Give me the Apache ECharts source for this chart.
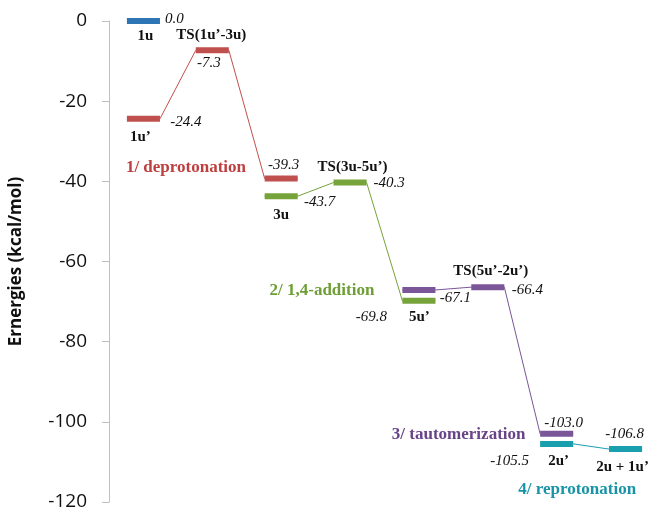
<!DOCTYPE html>
<html>
<head>
<meta charset="utf-8">
<script src="https://cdn.jsdelivr.net/npm/echarts@6/dist/echarts.min.js"></script>
<style>
  html, body { margin: 0; padding: 0; background: #fff; }
  #chart { width: 654px; height: 512px; }
</style>
</head>
<body>
<div id="chart"></div>
<script>
// Energy levels, left to right
var levelNames = ['1u', '1u’', 'TS(1u’-3u)', '', '3u', 'TS(3u-5u’)', '', '5u’', 'TS(5u’-2u’)', '', '2u’', '2u + 1u’'];
var levelCols = [1, 1, 2, 3, 3, 4, 5, 5, 6, 7, 7, 8];
var levelEnergies = [0.0, -24.4, -7.3, -39.3, -43.7, -40.3, -67.1, -69.8, -66.4, -103.0, -105.5, -106.8];
var levelStep = [0, 1, 1, 1, 2, 2, 3, 2, 3, 3, 4, 4];

// Reaction steps: which levels each path joins, and its caption
var stepPaths = [[1, 2, 3], [4, 5, 7], [6, 8, 9], [10, 11]];
var stepLabels = ['1/ deprotonation', '2/ 1,4-addition', '3/ tautomerization', '4/ reprotonation'];
var stepAnchor = [1, 7, 9, 10];

// Y axis
var yMin = -120, yMax = 0, yStep = 20;

// ---- styling (kept apart from the data) ----
var barColors = ['#2E75B6', '#C0504D', '#77A33B', '#7A5598', '#1A9FAE'];
var textColors = [null, '#BE3F3F', '#6E9E35', '#674387', '#1894A6'];
var HW = 0.24; // half bar width, in column units
var valueOffsets = [[31, -1.5], [42.5, 3], [-3.5, 12.5], [2.5, -13], [38.5, 6], [39, 1],
                    [36.5, 8], [-47.5, 16.5], [39.5, 2.5], [7, -11], [-47, 17], [-1, -15.5]];
var nameOffsets = [[2, 15], [-3, 18], [-1, -15], null, [0, 19], [2.5, -15.5],
                   null, [0.5, 16.5], [3, -16.5], null, [2, 17], [-3, 18.5]];
var stepOffsets = [[42.5, 48.5], [-97, -10], [-98, 1], [20.5, 46]];
var serif = '"Liberation Serif", "Times New Roman", serif';

function textLabel(offset, text, extra) {
    var l = {
        show: true, position: 'inside', offset: offset, formatter: text,
        fontFamily: serif, fontSize: 15, color: '#111',
        textBorderWidth: 0, textBorderColor: 'transparent', textShadowBlur: 0
    };
    for (var key in extra) l[key] = extra[key];
    return l;
}

var series = [];

// thin connectors for each step
stepPaths.forEach(function (path, i) {
    var pts = [];
    path.forEach(function (k) {
        pts.push([levelCols[k] - HW, levelEnergies[k]]);
        pts.push([levelCols[k] + HW, levelEnergies[k]]);
    });
    series.push({
        type: 'line', data: pts, symbol: 'none', silent: true, z: 2,
        lineStyle: { width: 1, color: barColors[i + 1] }
    });
});

// thick level bars
levelEnergies.forEach(function (e, k) {
    series.push({
        type: 'line', symbol: 'none', silent: true, z: 3,
        data: [[levelCols[k] - HW, e], [levelCols[k] + HW, e]],
        lineStyle: { width: 6, color: barColors[levelStep[k]], cap: 'butt' }
    });
});

// energy values
series.push({
    type: 'scatter', symbolSize: 0, silent: true, z: 5, itemStyle: { opacity: 1 },
    data: levelEnergies.map(function (e, k) {
        return {
            value: [levelCols[k], e],
            label: textLabel(valueOffsets[k], e.toFixed(1), { fontStyle: 'italic' })
        };
    })
});

// level names
series.push({
    type: 'scatter', symbolSize: 0, silent: true, z: 5, itemStyle: { opacity: 1 },
    data: levelNames.map(function (n, k) {
        var l = textLabel(nameOffsets[k] || [0, 0], n, { fontWeight: 'bold' });
        l.show = n !== '';
        return { value: [levelCols[k], levelEnergies[k]], label: l };
    })
});

// step captions
series.push({
    type: 'scatter', symbolSize: 0, silent: true, z: 5, itemStyle: { opacity: 1 },
    data: stepLabels.map(function (s, i) {
        var k = stepAnchor[i];
        return {
            value: [levelCols[k], levelEnergies[k]],
            label: textLabel(stepOffsets[i], s, { fontWeight: 'bold', fontSize: 17, color: textColors[i + 1] })
        };
    })
});

var option = {
    animation: false,
    backgroundColor: '#fff',
    grid: { left: 108, right: 4, top: 21, bottom: 10 },
    xAxis: {
        type: 'value', min: 0.5, max: 8.355, show: false
    },
    yAxis: {
        type: 'value', min: yMin, max: yMax, interval: yStep,
        name: 'Ernergies (kcal/mol)', nameLocation: 'middle', nameGap: 84, nameRotate: 90,
        nameTextStyle: { fontFamily: 'Open Sans', fontWeight: 'bold', fontSize: 17, color: '#111' },
        axisLine: { show: true, lineStyle: { color: '#BFBFBF', width: 1 } },
        axisTick: { show: true, length: 7, lineStyle: { color: '#BFBFBF' } },
        axisLabel: { margin: 22, fontFamily: 'Open Sans', fontSize: 19, color: '#111' },
        splitLine: { show: false }
    },
    series: series
};

var chart = echarts.init(document.getElementById('chart'));
chart.setOption(option);
</script>
</body>
</html>
